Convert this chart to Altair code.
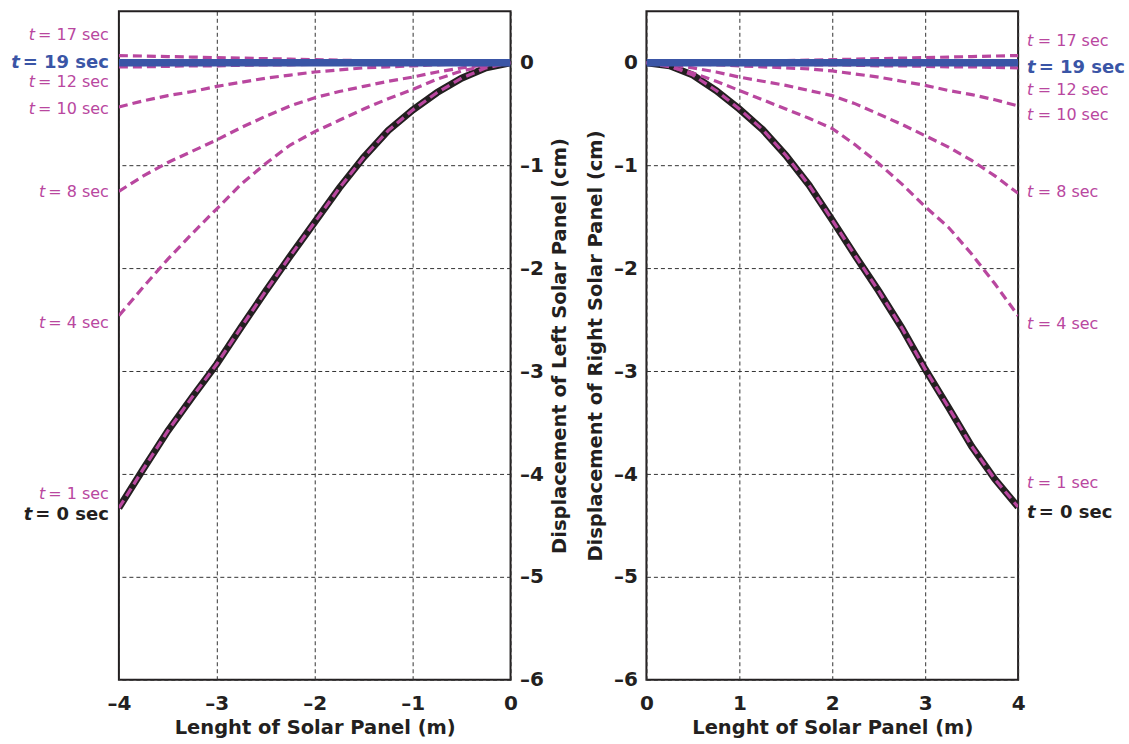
import altair as alt
import pandas as pd

# ---------------- data ----------------
x_pos = [0, 0.25, 0.5, 0.75, 1, 1.25, 1.5, 1.75, 2, 2.25, 2.5, 2.75, 3, 3.25, 3.5, 3.75, 4]
x_neg = [-v for v in x_pos]

# left panel (x from 0 to -4)
left_t0 = [0, -0.05, -0.15, -0.29, -0.46, -0.66, -0.92, -1.22, -1.55, -1.88, -2.22, -2.57, -2.93, -3.25, -3.58, -3.95, -4.33]
left_t1 = [0, -0.05, -0.15, -0.29, -0.46, -0.66, -0.92, -1.22, -1.55, -1.88, -2.22, -2.57, -2.93, -3.25, -3.58, -3.95, -4.33]
left_t4 = [0, -0.03, -0.08, -0.16, -0.26, -0.35, -0.45, -0.56, -0.67, -0.80, -0.98, -1.18, -1.42, -1.66, -1.91, -2.18, -2.46]
left_t8 = [0, -0.02, -0.05, -0.09, -0.14, -0.18, -0.23, -0.28, -0.34, -0.42, -0.52, -0.63, -0.75, -0.86, -0.97, -1.10, -1.25]
left_t10 = [0, -0.01, -0.01, -0.02, -0.03, -0.04, -0.05, -0.07, -0.09, -0.12, -0.15, -0.19, -0.23, -0.28, -0.32, -0.37, -0.43]
left_t12 = [0, 0, 0, -0.005, -0.005, -0.01, -0.01, -0.015, -0.015, -0.02, -0.02, -0.025, -0.03, -0.03, -0.035, -0.04, -0.04]
left_t17 = [0, 0, 0.005, 0.01, 0.01, 0.015, 0.02, 0.025, 0.03, 0.035, 0.04, 0.045, 0.05, 0.055, 0.06, 0.065, 0.07]
left_t19 = [0] * 17

# right panel (x from 0 to 4)
right_t0 = [0, -0.03, -0.12, -0.27, -0.45, -0.65, -0.90, -1.19, -1.53, -1.88, -2.22, -2.58, -2.98, -3.35, -3.73, -4.05, -4.32]
right_t1 = [0, -0.03, -0.12, -0.27, -0.45, -0.65, -0.90, -1.19, -1.53, -1.88, -2.22, -2.58, -2.98, -3.35, -3.73, -4.05, -4.32]
right_t4 = [0, -0.04, -0.10, -0.18, -0.27, -0.36, -0.45, -0.54, -0.64, -0.80, -0.98, -1.18, -1.40, -1.60, -1.86, -2.15, -2.46]
right_t8 = [0, -0.02, -0.05, -0.09, -0.14, -0.18, -0.22, -0.27, -0.32, -0.40, -0.50, -0.60, -0.71, -0.82, -0.95, -1.10, -1.27]
right_t10 = [0, -0.01, -0.01, -0.02, -0.03, -0.04, -0.05, -0.06, -0.08, -0.11, -0.14, -0.18, -0.22, -0.27, -0.31, -0.36, -0.42]
right_t12 = [0, 0, 0, -0.005, -0.01, -0.01, -0.015, -0.02, -0.02, -0.025, -0.03, -0.03, -0.035, -0.04, -0.04, -0.045, -0.05]
right_t17 = [0, 0, 0.005, 0.01, 0.01, 0.015, 0.02, 0.025, 0.03, 0.035, 0.04, 0.045, 0.05, 0.055, 0.06, 0.065, 0.07]
right_t19 = [0] * 17

# curve labels
label_times = [17, 19, 12, 10, 8, 4, 1, 0]
label_y_left = [0.27, 0.0, -0.19, -0.45, -1.26, -2.53, -4.19, -4.40]
label_y_right = [0.21, -0.05, -0.27, -0.51, -1.26, -2.54, -4.09, -4.38]

y_ticks = [-6, -5, -4, -3, -2, -1, 0]
x_ticks_left = [-4, -3, -2, -1, 0]
x_ticks_right = [0, 1, 2, 3, 4]

# ---------------- styling ----------------
MAGENTA = "#B9479F"
BLUE = "#3A55A6"
BLACK = "#231F20"
FONT = "DejaVu Sans"
BOLD_TIMES = {19: BLUE, 0: BLACK}
N_SIZE, B_SIZE = 16, 18

# DejaVu Sans advance widths (em/1000)
W_NORMAL = {"=": 838, " ": 318, "s": 521, "e": 615, "c": 550, "d": 636}
W_BOLD = {"=": 838, " ": 348, "s": 595, "e": 678, "c": 593, "d": 696}


def text_width(s, bold, size):
    table = W_BOLD if bold else W_NORMAL
    return sum(table["d"] if ch.isdigit() else table[ch] for ch in s) * size / 1000.0


def series_frame(xs, series):
    rows = []
    for t, ys in series:
        for xv, yv in zip(xs, ys):
            rows.append({"x": xv, "y": yv, "t": t})
    return pd.DataFrame(rows)


def label_frame(ys, side):
    rows = []
    for t, yv in zip(label_times, ys):
        bold = t in BOLD_TIMES
        size = B_SIZE if bold else N_SIZE
        rest = f"= {t} sec"
        w = text_width(rest, bold, size)
        rows.append({
            "y": yv,
            "rest": rest,
            "tt": "t",
            "col": BOLD_TIMES.get(t, MAGENTA),
            "bold": bold,
            "tdx": -(w + 3) if side == "left" else 0,
            "rdx": 0 if side == "left" else (size * 0.48 + 3),
        })
    return pd.DataFrame(rows)


LABEL_EXPR = "datum.value < 0 ? '\u2013' + abs(datum.value) : '' + datum.value"


def panel(xs, series, label_ys, side, width, title_y, xticks, xdomain, ytitle_pad):
    df = series_frame(xs, series)
    lab = label_frame(label_ys, side)
    yscale = alt.Scale(domain=[-6, 0.5], nice=False, zero=False)
    xscale = alt.Scale(domain=xdomain, nice=False, zero=False)
    xaxis = alt.Axis(
        values=xticks, title="Lenght of Solar Panel (m)", grid=True,
        gridDash=[4, 3], gridColor="#333333", gridWidth=1, gridOpacity=1,
        ticks=False, domain=False, labelExpr=LABEL_EXPR,
        labelFont=FONT, labelFontWeight="bold", labelFontSize=20, labelColor=BLACK,
        labelPadding=14, titleFont=FONT, titleFontWeight="bold", titleFontSize=19.5,
        titleColor=BLACK, titlePadding=5, labelFlush=False,
    )
    yaxis = alt.Axis(
        values=y_ticks, title=title_y, orient=("right" if side == "left" else "left"),
        titleAngle=270, grid=True, gridDash=[4, 3], gridColor="#333333", gridWidth=1,
        gridOpacity=1, ticks=False, domain=False, labelExpr=LABEL_EXPR,
        labelFont=FONT, labelFontWeight="bold", labelFontSize=20, labelColor=BLACK,
        labelPadding=9, titleFont=FONT, titleFontWeight="bold", titleFontSize=19.5,
        titleColor=BLACK, titlePadding=ytitle_pad, labelFlush=False,
    )
    base = alt.Chart(df)
    black = base.transform_filter("datum.t == 0").mark_line(
        color=BLACK, strokeWidth=7, clip=True
    ).encode(
        x=alt.X("x:Q", scale=xscale, axis=xaxis),
        y=alt.Y("y:Q", scale=yscale, axis=yaxis),
    )
    dashed = base.transform_filter("datum.t > 0 && datum.t < 19").mark_line(
        color=MAGENTA, strokeWidth=3.2, strokeDash=[9, 5], clip=True
    ).encode(
        x=alt.X("x:Q", scale=xscale),
        y=alt.Y("y:Q", scale=yscale),
        detail="t:N",
    )
    blue = base.transform_filter("datum.t == 19").mark_line(
        color=BLUE, strokeWidth=7.5, clip=True
    ).encode(
        x=alt.X("x:Q", scale=xscale),
        y=alt.Y("y:Q", scale=yscale),
    )

    xpix = -10 if side == "left" else width + 9
    align = "right" if side == "left" else "left"
    layers = [black, dashed, blue]
    for bold in (False, True):
        sub = lab[lab["bold"] == bold]
        size = B_SIZE if bold else N_SIZE
        weight = "bold" if bold else "normal"
        lb = alt.Chart(sub)
        rest = lb.mark_text(
            align=align, baseline="middle", font=FONT, fontSize=size, fontWeight=weight,
            dx=alt.ExprRef(expr="datum.rdx"),
        ).encode(
            x=alt.value(xpix), y=alt.Y("y:Q", scale=yscale),
            text="rest:N", color=alt.Color("col:N", scale=None),
        )
        tt = lb.mark_text(
            align=align, baseline="middle", font=FONT, fontSize=size, fontWeight=weight,
            fontStyle="italic", dx=alt.ExprRef(expr="datum.tdx"),
        ).encode(
            x=alt.value(xpix), y=alt.Y("y:Q", scale=yscale),
            text="tt:N", color=alt.Color("col:N", scale=None),
        )
        layers += [rest, tt]
    return alt.layer(*layers).properties(width=width, height=669)


left = panel(
    x_neg,
    [(0, left_t0), (1, left_t1), (4, left_t4), (8, left_t8), (10, left_t10),
     (12, left_t12), (17, left_t17), (19, left_t19)],
    label_y_left, "left", 392, "Displacement of Left Solar Panel (cm)",
    x_ticks_left, [-4, 0], 26,
)
right = panel(
    x_pos,
    [(0, right_t0), (1, right_t1), (4, right_t4), (8, right_t8), (10, right_t10),
     (12, right_t12), (17, right_t17), (19, right_t19)],
    label_y_right, "right", 372, "Displacement of Right Solar Panel (cm)",
    x_ticks_right, [0, 4], 8,
)

chart = alt.hconcat(left, right, spacing=14).properties(
    padding={"left": 10, "top": 10, "right": 3, "bottom": 3},
    background="white",
).configure_view(stroke=BLACK, strokeWidth=2)

chart.save("out.html", embed_options={"renderer": "svg", "actions": False})
